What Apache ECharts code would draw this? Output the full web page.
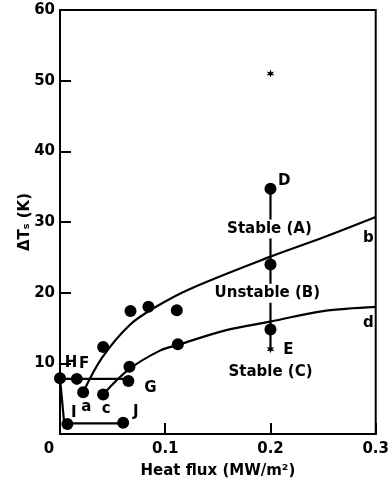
<!DOCTYPE html>
<html>
<head>
<meta charset="utf-8">
<script src="https://cdn.jsdelivr.net/npm/echarts@6/dist/echarts.min.js"></script>
<style>
  html, body { margin: 0; padding: 0; background: #fff; }
  #chart { width: 392px; height: 487px; }
</style>
</head>
<body>
<div id="chart"></div>
<script>
// Heat flux (MW/m^2) against superheat ΔTs (K) for the measured runs.
const measuredPoints = [
  [0, 7.9],      // H
  [0.016, 7.8],  // F
  [0.022, 5.9],  // a
  [0.041, 12.3],
  [0.067, 17.4],
  [0.084, 18.0],
  [0.111, 17.5],
  [0.041, 5.6],  // c
  [0.066, 9.5],
  [0.065, 7.5],  // G
  [0.112, 12.7],
  [0.2, 34.7],   // D
  [0.2, 24.0],
  [0.2, 14.8],
  [0.007, 1.4],  // I
  [0.06, 1.6]    // J
];
const starredPoints = [
  [0.2, 51.0],
  [0.2, 12.0]    // E
];
// Boundary curves b and d
const curveB = [[0.022, 5.9], [0.04, 10.8], [0.066, 15.4], [0.09, 17.9], [0.123, 20.5], [0.2, 25.1], [0.25, 27.8], [0.3, 30.7]];
const curveD = [[0.041, 5.6], [0.066, 9.2], [0.095, 11.8], [0.112, 12.6], [0.158, 14.7], [0.2, 15.9], [0.25, 17.4], [0.3, 18.0]];
// Connecting paths between runs
const pathHFG = [[0, 7.8], [0.065, 7.8]];
const pathHIJ = [[0, 7.9], [0.004, 1.5], [0.06, 1.5]];
const pathDE = [[0.2, 34.7], [0.2, 12.0]];
// Region names and run letters, anchored in data units
const regionNames = ['Stable (A)', 'Unstable (B)', 'Stable (C)'];
const regionAt = [[0.199, 29.0], [0.197, 19.9], [0.2, 8.8]];
const letterNames = ['D', 'E', 'b', 'd', 'H', 'F', 'a', 'c', 'I', 'J', 'G'];
const letterAt = [[0.213, 35.8], [0.217, 11.9], [0.293, 27.7], [0.293, 15.7], [0.0105, 10.0], [0.023, 9.9], [0.025, 3.8], [0.044, 3.5], [0.013, 3.0], [0.072, 3.1], [0.086, 6.5]];

const FONT = 'DejaVu Sans';

// six-armed asterisk symbol
function asteriskPath() {
  const p = [];
  for (let i = 0; i < 12; i++) {
    const a = i * Math.PI / 6 - Math.PI / 2;
    const r = i % 2 ? 0.42 : 1;
    p.push((i ? 'L' : 'M') + (r * Math.cos(a)).toFixed(3) + ',' + (r * Math.sin(a)).toFixed(3));
  }
  return 'path://' + p.join(' ') + ' Z';
}

function plainLine(data, smooth) {
  return {
    type: 'line', data: data, smooth: smooth, showSymbol: false, symbol: 'none',
    lineStyle: { color: '#000', width: 2.2 }, silent: true, z: 2
  };
}

function textSeries(names, at, style) {
  return {
    type: 'scatter', symbolSize: 0, silent: true, z: 5,
    itemStyle: { opacity: 1 },
    data: names.map((n, i) => ({ name: n, value: at[i] })),
    label: Object.assign({
      show: true, position: 'inside', formatter: '{b}', color: '#000',
      fontFamily: FONT, fontWeight: 'bold'
    }, style)
  };
}

const chart = echarts.init(document.getElementById('chart'));
chart.setOption({
  animation: false,
  backgroundColor: '#fff',
  grid: { left: 60, right: 15, top: 10, bottom: 53, show: true, borderColor: '#000', borderWidth: 2 },
  xAxis: {
    type: 'value', min: 0, max: 0.3, interval: 0.1,
    name: 'Heat flux (MW/m²)', nameLocation: 'middle', nameGap: 30, nameMoveOverlap: false,
    nameTextStyle: { color: '#000', fontFamily: FONT, fontWeight: 'bold', fontSize: 15 },
    axisLine: { show: true, lineStyle: { color: '#000', width: 2 } },
    axisTick: { show: true, inside: true, length: 11, lineStyle: { color: '#000', width: 2 } },
    splitLine: { show: false },
    axisLabel: {
      color: '#000', fontFamily: FONT, fontWeight: 'bold', fontSize: 15, margin: 8,
      formatter: v => v === 0 ? '{z|0}' : v.toFixed(1),
      rich: { z: { color: '#000', fontFamily: FONT, fontWeight: 'bold', fontSize: 15, padding: [0, 22, 0, 0] } }
    }
  },
  yAxis: {
    type: 'value', min: 0, max: 60, interval: 10,
    name: 'ΔTₛ (K)', nameLocation: 'middle', nameGap: 27, nameRotate: 90, nameMoveOverlap: false,
    nameTextStyle: { color: '#000', fontFamily: FONT, fontWeight: 'bold', fontSize: 15 },
    axisLine: { show: true, lineStyle: { color: '#000', width: 2 } },
    axisTick: { show: true, inside: true, length: 11, lineStyle: { color: '#000', width: 2 } },
    splitLine: { show: false },
    axisLabel: { color: '#000', fontFamily: FONT, fontWeight: 'bold', fontSize: 15, margin: 5, showMinLabel: false }
  },
  series: [
    plainLine(curveB, 0.35),
    plainLine(curveD, 0.35),
    plainLine(pathHFG, false),
    plainLine(pathHIJ, false),
    plainLine(pathDE, false),
    textSeries(regionNames, regionAt, { fontSize: 15, backgroundColor: '#fff', padding: [2, 1] }),
    {
      type: 'scatter', data: measuredPoints, symbol: 'circle', symbolSize: 12,
      itemStyle: { color: '#000', opacity: 1 }, silent: true, z: 6
    },
    {
      type: 'scatter', data: starredPoints, symbol: asteriskPath(), symbolSize: 8,
      itemStyle: { color: '#000', opacity: 1 }, silent: true, z: 6
    },
    textSeries(letterNames, letterAt, { fontSize: 15 })
  ]
});
</script>
</body>
</html>
